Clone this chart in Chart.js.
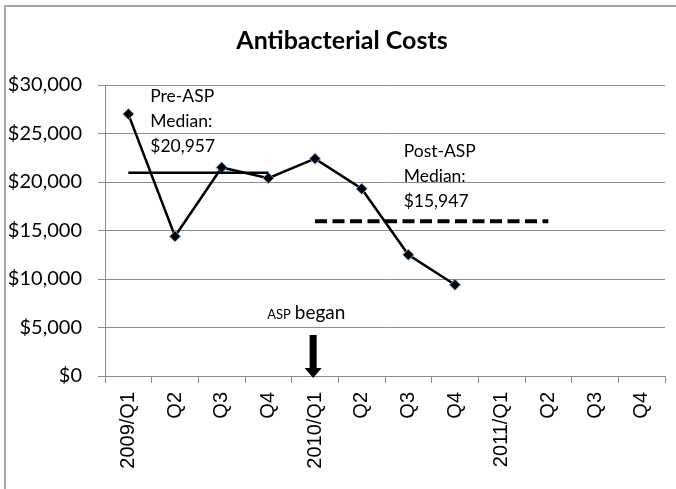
<!DOCTYPE html>
<html>
<head>
<meta charset="utf-8">
<script src="https://cdn.jsdelivr.net/npm/chart.js@4.4.1/dist/chart.umd.min.js"></script>
<style>
  html, body { margin: 0; padding: 0; background: #fff; }
  #wrap { width: 676px; height: 489px; position: relative; }
</style>
</head>
<body>
<div id="wrap"><canvas id="chart" width="676" height="489"></canvas></div>
<script>
// quarterly data
const quarters = ['2009/Q1', 'Q2', 'Q3', 'Q4', '2010/Q1', 'Q2', 'Q3', 'Q4', '2011/Q1', 'Q2', 'Q3', 'Q4'];
const costs = [27000, 14400, 21500, 20400, 22400, 19300, 12500, 9400, null, null, null, null];
const yTicks = [0, 5000, 10000, 15000, 20000, 25000, 30000];
const preMedian = 20957;
const preRange = [0, 3];
const postMedian = 15947;
const postRange = [4, 9];
const chartTitle = 'Antibacterial Costs';

const gridColor = '#8c8c8c';

function medianLine(value, range) {
  return quarters.map((q, i) => (i >= range[0] && i <= range[1] ? value : null));
}

function money(v) {
  return '$' + v.toLocaleString('en-US');
}

// frame, title + annotations
const annotate = {
  id: 'annotate',
  beforeDraw(chart) {
    const ctx = chart.ctx;
    ctx.save();
    ctx.fillStyle = '#fff';
    ctx.fillRect(0, 0, chart.width, chart.height);
    ctx.strokeStyle = '#a6a6a6';
    ctx.lineWidth = 2;
    ctx.beginPath();
    ctx.moveTo(5, chart.height);
    ctx.lineTo(5, 6);
    ctx.lineTo(chart.width, 6);
    ctx.stroke();

    // title is centred on the whole frame, not the plot
    ctx.fillStyle = '#000';
    ctx.font = 'bold 25px Lato';
    ctx.textAlign = 'center';
    ctx.textBaseline = 'middle';
    ctx.fillText(chartTitle, chart.width / 2 + 4, 41);
    ctx.restore();
  },
  afterDatasetsDraw(chart) {
    const ctx = chart.ctx;
    const xs = chart.scales.x;
    const ys = chart.scales.y;
    ctx.save();
    ctx.fillStyle = '#000';
    ctx.textBaseline = 'alphabetic';
    ctx.textAlign = 'left';
    ctx.font = '17.5px Lato';

    const preX = xs.getPixelForValue(0.47);
    const preY = ys.getPixelForValue(28280);
    ['Pre-ASP', 'Median:', money(preMedian)].forEach((t, i) => ctx.fillText(t, preX, preY + i * 25));

    const postX = xs.getPixelForValue(5.9);
    const postY = ys.getPixelForValue(22550);
    ['Post-ASP', 'Median:', money(postMedian)].forEach((t, i) => ctx.fillText(t, postX, postY + i * 24.7));

    // "ASP began" with arrow down
    const ax = xs.getPixelForValue(3.96);
    const ty = ys.getPixelForValue(5880);
    const startX = ax - 46;
    ctx.font = '13px Lato';
    const w1 = ctx.measureText('ASP').width;
    ctx.fillText('ASP', startX, ty);
    ctx.font = '19px Lato';
    ctx.fillText('began', startX + w1 + 4, ty);

    const top = ys.getPixelForValue(4230);
    const tip = ys.bottom + 2;
    ctx.fillRect(ax - 3.5, top, 7, tip - top - 9);
    ctx.beginPath();
    ctx.moveTo(ax - 8.5, tip - 10);
    ctx.lineTo(ax + 8.5, tip - 10);
    ctx.lineTo(ax, tip);
    ctx.closePath();
    ctx.fill();
    ctx.restore();
  }
};

new Chart(document.getElementById('chart'), {
  type: 'line',
  data: {
    labels: quarters,
    datasets: [
      {
        label: 'Post-ASP Median',
        data: medianLine(postMedian, postRange),
        borderColor: '#000',
        borderWidth: 4,
        borderDash: [12, 5.5],
        pointRadius: 0,
        fill: false
      },
      {
        label: 'Pre-ASP Median',
        data: medianLine(preMedian, preRange),
        borderColor: '#000',
        borderWidth: 2.5,
        pointRadius: 0,
        fill: false
      },
      {
        label: 'Antibacterial Costs',
        data: costs,
        borderColor: '#000',
        borderWidth: 2.5,
        pointStyle: 'rectRot',
        pointRadius: 5.5,
        pointBackgroundColor: '#000',
        pointBorderColor: '#6fa0d8',
        pointBorderWidth: 1,
        tension: 0,
        fill: false
      }
    ]
  },
  options: {
    responsive: false,
    animation: false,
    events: [],
    layout: { padding: { left: 0, right: 11, top: 85, bottom: 0 } },
    plugins: {
      legend: { display: false },
      tooltip: { enabled: false },
      title: { display: false }
    },
    scales: {
      x: {
        type: 'category',
        offset: true,
        afterFit(scale) { scale.height = 113; },
        grid: {
          offset: true,
          drawOnChartArea: false,
          drawTicks: true,
          tickLength: 7,
          color: gridColor
        },
        border: { display: true, color: gridColor, width: 1 },
        ticks: {
          autoSkip: false,
          maxRotation: 90,
          minRotation: 90,
          padding: 9,
          color: '#000',
          font: { family: 'Liberation Sans', size: 20 }
        }
      },
      y: {
        min: 0,
        max: 30000,
        afterFit(scale) { scale.width = 105; },
        afterBuildTicks(scale) { scale.ticks = yTicks.map(v => ({ value: v })); },
        grid: { color: gridColor, tickLength: 7, lineWidth: 1 },
        border: { display: true, color: gridColor, width: 1 },
        ticks: {
          padding: 16,
          color: '#000',
          font: { family: 'Lato', size: 20 },
          callback: v => money(v)
        }
      }
    }
  },
  plugins: [annotate]
});
</script>
</body>
</html>
